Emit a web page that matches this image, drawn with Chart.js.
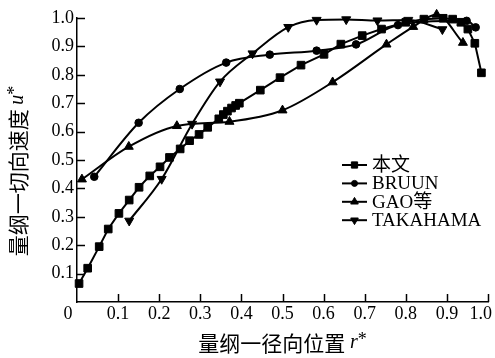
<!DOCTYPE html>
<html>
<head>
<meta charset="utf-8">
<script src="https://cdn.jsdelivr.net/npm/chart.js@4.4.1/dist/chart.umd.min.js"></script>
<style>
  html, body { margin: 0; padding: 0; background: #fff; }
  #c { display: block; }
</style>
</head>
<body>
<canvas id="c" width="495" height="358"></canvas>
<script>
// Dimensionless tangential velocity u* against dimensionless radial position r*
const seriesNames = ['本文', 'BRUUN', 'GAO等', 'TAKAHAMA'];

const rBenwen = [0.005, 0.026, 0.054, 0.076, 0.102, 0.127, 0.151, 0.177, 0.202, 0.225,
                 0.251, 0.274, 0.297, 0.318, 0.345, 0.356, 0.366, 0.376, 0.386, 0.395,
                 0.446, 0.494, 0.545, 0.601, 0.642, 0.694, 0.741, 0.800, 0.844, 0.891,
                 0.914, 0.934, 0.951, 0.968, 0.984];
const uBenwen = [0.065, 0.119, 0.195, 0.257, 0.312, 0.359, 0.404, 0.444, 0.476, 0.509,
                 0.539, 0.568, 0.590, 0.615, 0.645, 0.660, 0.672, 0.683, 0.692, 0.700,
                 0.746, 0.790, 0.834, 0.872, 0.908, 0.938, 0.961, 0.985, 0.996, 0.999,
                 0.996, 0.985, 0.961, 0.911, 0.807];

const rBruun = [0.042, 0.150, 0.250, 0.363, 0.469, 0.583, 0.679, 0.781, 0.948, 0.970];
const uBruun = [0.441, 0.631, 0.750, 0.843, 0.871, 0.885, 0.907, 0.975, 0.990, 0.967];

const rGao = [0.012, 0.126, 0.243, 0.371, 0.500, 0.622, 0.753, 0.818, 0.875, 0.939];
const uGao = [0.432, 0.547, 0.620, 0.635, 0.675, 0.774, 0.907, 0.969, 1.012, 0.913];

const rTakahama = [0.127, 0.206, 0.280, 0.348, 0.427, 0.514, 0.583, 0.655, 0.731, 0.806, 0.889];
const uTakahama = [0.286, 0.433, 0.627, 0.776, 0.875, 0.968, 0.993, 0.995, 0.991, 0.993, 0.960];

const xTickLabels = ['0', '0.1', '0.2', '0.3', '0.4', '0.5', '0.6', '0.7', '0.8', '0.9', '1.0'];
const yTickLabels = ['', '0.1', '0.2', '0.3', '0.4', '0.5', '0.6', '0.7', '0.8', '0.9', '1.0'];

const xTitle = ['量纲一径向位置 ', 'r', '*'];
const yTitle = ['量纲一切向速度 ', 'u', '*'];

const SERIF = '"Liberation Serif", "Times New Roman", "Noto Sans CJK SC", serif';
const CJK = '"Noto Sans CJK SC", "Noto Sans CJK JP", sans-serif';

function pts(xs, ys) { return xs.map((x, i) => ({ x: x, y: ys[i] })); }

function series(label, xs, ys, style, radius, rotation, smooth) {
  return {
    label: label,
    data: pts(xs, ys),
    borderColor: '#000',
    backgroundColor: '#000',
    borderWidth: 2,
    pointStyle: style,
    pointRotation: rotation,
    pointRadius: radius,
    pointBorderWidth: 1,
    pointBackgroundColor: '#000',
    pointBorderColor: '#000',
    cubicInterpolationMode: smooth ? 'monotone' : 'default',
    tension: 0,
    clip: false,
    fill: false
  };
}

const datasets = [
  series(seriesNames[0], rBenwen, uBenwen, 'rect', 5.4, 0, false),
  series(seriesNames[1], rBruun, uBruun, 'circle', 3.8, 0, true),
  series(seriesNames[2], rGao, uGao, 'triangle', 5.2, 0, true),
  series(seriesNames[3], rTakahama, uTakahama, 'triangle', 5.2, 180, true)
];

function drawMarker(ctx, ds, x, y, r) {
  const opts = { pointStyle: ds.pointStyle, rotation: ds.pointRotation, radius: r, borderWidth: 1 };
  ctx.fillStyle = '#000';
  ctx.strokeStyle = '#000';
  ctx.lineWidth = 1;
  Chart.helpers.drawPoint(ctx, opts, x, y);
}

function drawMixed(ctx, parts, x, y) {
  // parts: CJK text, italic variable, asterisk
  const fonts = ['21px ' + CJK, 'italic 20px ' + SERIF, '18px ' + SERIF];
  let total = 0;
  const widths = parts.map((p, i) => { ctx.font = fonts[i]; const w = ctx.measureText(p).width; total += w; return w; });
  let cx = x - total / 2;
  ctx.textAlign = 'left';
  ctx.textBaseline = 'middle';
  parts.forEach((p, i) => {
    ctx.font = fonts[i];
    ctx.fillText(p, cx, i === 2 ? y - 3 : y);
    cx += widths[i];
  });
}

const decor = {
  id: 'decor',
  afterDraw(chart) {
    const ctx = chart.ctx;
    const area = chart.chartArea;
    const xs = chart.scales.x, ys = chart.scales.y;
    ctx.save();
    ctx.strokeStyle = '#000';
    ctx.fillStyle = '#000';
    ctx.lineWidth = 1.5;

    // inward tick marks
    xs.ticks.forEach(t => {
      if (t.value === 0) return;
      const px = Math.round(xs.getPixelForValue(t.value)) + 0.5;
      ctx.beginPath(); ctx.moveTo(px, area.bottom); ctx.lineTo(px, area.bottom - 8); ctx.stroke();
    });
    ys.ticks.forEach(t => {
      if (t.value === 0) return;
      const py = Math.round(ys.getPixelForValue(t.value)) + 0.5;
      ctx.beginPath(); ctx.moveTo(area.left, py); ctx.lineTo(area.left + 8, py); ctx.stroke();
    });

    // x tick labels (origin label sits at the corner, last label kept inside the canvas)
    ctx.font = '18px ' + SERIF;
    ctx.textBaseline = 'middle';
    ctx.textAlign = 'center';
    xs.ticks.forEach(t => {
      const k = Math.round(t.value * 10);
      const label = xTickLabels[k];
      let px = xs.getPixelForValue(t.value);
      const w = ctx.measureText(label).width;
      if (k === 0) px -= 9;
      if (px + w / 2 > chart.width - 3) px = chart.width - 3 - w / 2;
      ctx.fillText(label, px, area.bottom + 12);
    });

    // axis titles
    drawMixed(ctx, xTitle, (area.left + area.right) / 2, area.bottom + 41);
    ctx.save();
    ctx.translate(18, (area.top + area.bottom) / 2 + 11);
    ctx.rotate(-Math.PI / 2);
    drawMixed(ctx, yTitle, 0, 0);
    ctx.restore();

    // legend: line sample with marker, then the series name
    const lx = area.right - 146, ly = area.top + 147, rowH = 18.4;
    chart.data.datasets.forEach((ds, i) => {
      const y = ly + i * rowH;
      ctx.lineWidth = 2;
      ctx.beginPath(); ctx.moveTo(lx, y); ctx.lineTo(lx + 25, y); ctx.stroke();
      drawMarker(ctx, ds, lx + 12.5, y, ds.pointStyle === 'circle' ? 3 : 4.4);
      ctx.font = '19px ' + SERIF;
      ctx.textAlign = 'left';
      ctx.textBaseline = 'middle';
      ctx.fillStyle = '#000';
      ctx.fillText(ds.label, lx + 30, y + 1);
    });
    ctx.restore();
  }
};

new Chart(document.getElementById('c'), {
  type: 'line',
  data: { datasets: datasets },
  plugins: [decor],
  options: {
    responsive: false,
    animation: false,
    devicePixelRatio: 1,
    layout: { padding: { top: 18, right: 7, left: 0, bottom: 0 } },
    plugins: { legend: { display: false }, tooltip: { enabled: false } },
    scales: {
      x: {
        type: 'linear', min: 0, max: 1,
        ticks: { stepSize: 0.1, display: false },
        grid: { display: false, drawTicks: false },
        border: { display: true, color: '#000', width: 1.5 },
        afterFit(s) { s.height = 56; }
      },
      y: {
        type: 'linear', min: 0, max: 1,
        ticks: {
          stepSize: 0.1, padding: 3, color: '#000',
          font: { family: SERIF, size: 18 },
          callback: (v) => yTickLabels[Math.round(v * 10)]
        },
        grid: { display: false, drawTicks: false },
        border: { display: true, color: '#000', width: 1.5 },
        afterFit(s) { s.width = 77; }
      }
    }
  }
});
</script>
</body>
</html>
